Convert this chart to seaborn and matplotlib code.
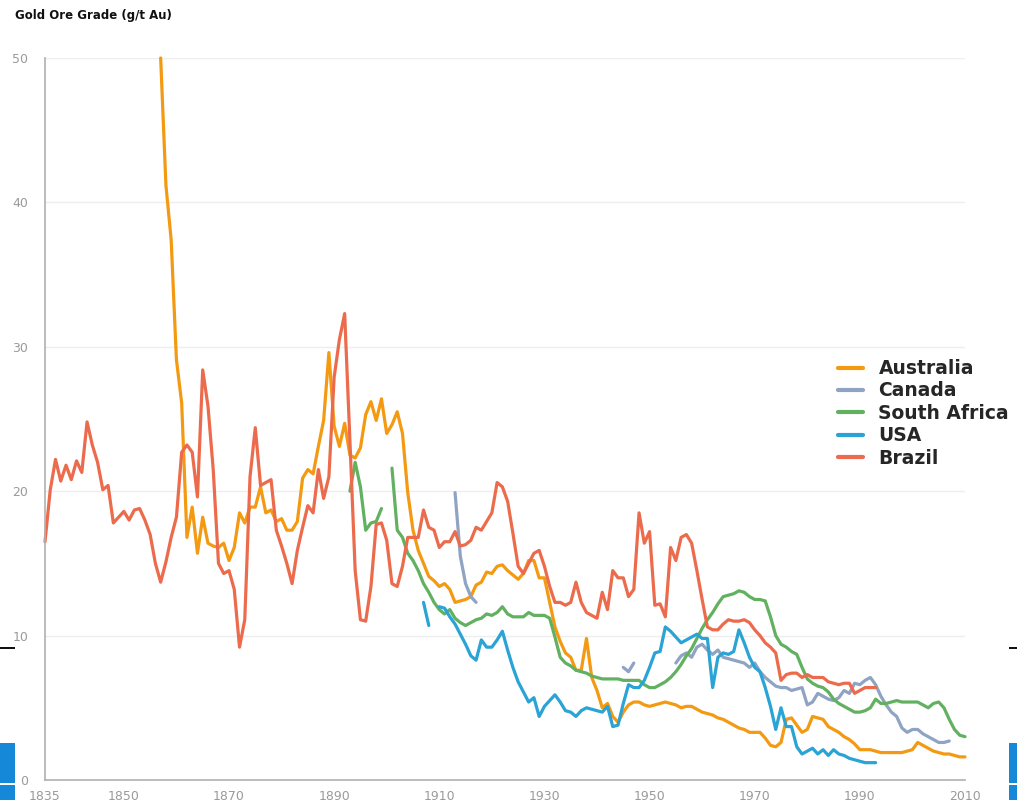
import pandas as pd
import matplotlib.pyplot as plt
import seaborn as sns
from matplotlib.patches import Rectangle
from matplotlib.lines import Line2D

# Gold ore grade (g/t Au)
aus_years = list(range(1857, 2011))
aus_vals = [50.0, 41.2, 37.4, 29.1, 26.1, 16.8, 18.9, 15.7, 18.2, 16.4,
            16.2, 16.1, 16.4, 15.2, 16.1, 18.5, 17.8, 18.9, 18.9, 20.3,
            18.5, 18.7, 17.9, 18.1, 17.3, 17.3, 17.9, 20.9, 21.5, 21.2,
            23.1, 24.9, 29.6, 24.5, 23.1, 24.7, 22.5, 22.3, 23.0, 25.3,
            26.2, 24.9, 26.4, 24.0, 24.6, 25.5, 24.0, 19.9, 17.3, 15.9,
            15.0, 14.1, 13.8, 13.4, 13.6, 13.2, 12.3, 12.4, 12.5, 12.7,
            13.5, 13.7, 14.4, 14.3, 14.8, 14.9, 14.5, 14.2, 13.9, 14.3,
            15.2, 15.2, 14.0, 14.0, 12.3, 10.6, 9.6, 8.8, 8.5, 7.6,
            7.6, 9.8, 7.1, 6.2, 5.0, 5.3, 4.4, 4.0, 4.7, 5.2,
            5.4, 5.4, 5.2, 5.1, 5.2, 5.3, 5.4, 5.3, 5.2, 5.0,
            5.1, 5.1, 4.9, 4.7, 4.6, 4.5, 4.3, 4.2, 4.0, 3.8,
            3.6, 3.5, 3.3, 3.3, 3.3, 2.9, 2.4, 2.3, 2.6, 4.2,
            4.3, 3.8, 3.3, 3.5, 4.4, 4.3, 4.2, 3.7, 3.5, 3.3,
            3.0, 2.8, 2.5, 2.1, 2.1, 2.1, 2.0, 1.9, 1.9, 1.9,
            1.9, 1.9, 2.0, 2.1, 2.6, 2.4, 2.2, 2.0, 1.9, 1.8,
            1.8, 1.7, 1.6, 1.6]

can_years_1 = list(range(1913, 1918))
can_vals_1 = [19.9, 15.5, 13.6, 12.7, 12.3]
can_years_2 = list(range(1945, 1948))
can_vals_2 = [7.8, 7.5, 8.1]
can_years_3 = list(range(1955, 2008))
can_vals_3 = [8.1, 8.6, 8.8, 8.5, 9.2, 9.4, 9.0, 8.7, 9.0, 8.5,
              8.4, 8.3, 8.2, 8.1, 7.8, 8.1, 7.5, 7.1, 6.8, 6.5,
              6.4, 6.4, 6.2, 6.3, 6.4, 5.2, 5.4, 6.0, 5.8, 5.6,
              5.5, 5.7, 6.2, 6.0, 6.7, 6.6, 6.9, 7.1, 6.6, 5.8,
              5.2, 4.7, 4.4, 3.6, 3.3, 3.5, 3.5, 3.2, 3.0, 2.8,
              2.6, 2.6, 2.7]

sa_years_1 = list(range(1893, 1900))
sa_vals_1 = [20.0, 22.0, 20.3, 17.3, 17.8, 17.9, 18.8]
sa_years_2 = list(range(1901, 2011))
sa_vals_2 = [21.6, 17.3, 16.8, 15.7, 15.2, 14.5, 13.6, 13.0, 12.3, 11.8,
             11.5, 11.8, 11.2, 10.9, 10.7, 10.9, 11.1, 11.2, 11.5, 11.4,
             11.6, 12.0, 11.5, 11.3, 11.3, 11.3, 11.6, 11.4, 11.4, 11.4,
             11.2, 9.9, 8.5, 8.1, 7.9, 7.6, 7.5, 7.4, 7.2, 7.1,
             7.0, 7.0, 7.0, 7.0, 6.9, 6.9, 6.9, 6.9, 6.6, 6.4,
             6.4, 6.6, 6.8, 7.1, 7.5, 8.0, 8.6, 9.1, 9.8, 10.5,
             11.1, 11.6, 12.2, 12.7, 12.8, 12.9, 13.1, 13.0, 12.7, 12.5,
             12.5, 12.4, 11.3, 10.0, 9.4, 9.2, 8.9, 8.7, 7.8, 7.0,
             6.7, 6.5, 6.4, 6.1, 5.6, 5.3, 5.1, 4.9, 4.7, 4.7,
             4.8, 5.0, 5.6, 5.3, 5.3, 5.4, 5.5, 5.4, 5.4, 5.4,
             5.4, 5.2, 5.0, 5.3, 5.4, 5.0, 4.2, 3.5, 3.1, 3.0]

usa_years_1 = [1907, 1908]
usa_vals_1 = [12.3, 10.7]
usa_years_2 = list(range(1910, 1994))
usa_vals_2 = [12.0, 11.9, 11.3, 10.8, 10.1, 9.4, 8.6, 8.3, 9.7, 9.2,
              9.2, 9.7, 10.3, 9.0, 7.8, 6.8, 6.1, 5.4, 5.7, 4.4,
              5.1, 5.5, 5.9, 5.4, 4.8, 4.7, 4.4, 4.8, 5.0, 4.9,
              4.8, 4.7, 5.1, 3.7, 3.8, 5.3, 6.6, 6.4, 6.4, 6.9,
              7.8, 8.8, 8.9, 10.6, 10.3, 9.9, 9.5, 9.7, 9.9, 10.1,
              9.8, 9.8, 6.4, 8.5, 8.8, 8.7, 8.9, 10.4, 9.5, 8.5,
              7.8, 7.5, 6.4, 5.1, 3.5, 5.0, 3.7, 3.7, 2.3, 1.8,
              2.0, 2.2, 1.8, 2.1, 1.7, 2.1, 1.8, 1.7, 1.5, 1.4,
              1.3, 1.2, 1.2, 1.2]

bra_years = list(range(1835, 1994))
bra_vals = [16.5, 20.1, 22.2, 20.7, 21.8, 20.8, 22.1, 21.3, 24.8, 23.2,
            22.0, 20.1, 20.4, 17.8, 18.2, 18.6, 18.0, 18.7, 18.8, 18.0,
            17.0, 15.0, 13.7, 15.1, 16.8, 18.2, 22.7, 23.2, 22.7, 19.6,
            28.4, 25.9, 21.5, 15.0, 14.3, 14.5, 13.2, 9.2, 11.1, 21.0,
            24.4, 20.4, 20.6, 20.8, 17.3, 16.2, 15.0, 13.6, 15.9, 17.5,
            19.0, 18.5, 21.5, 19.5, 21.0, 27.9, 30.5, 32.3, 23.5, 14.5,
            11.1, 11.0, 13.4, 17.7, 17.8, 16.6, 13.6, 13.4, 14.8, 16.8,
            16.8, 16.8, 18.7, 17.5, 17.3, 16.1, 16.5, 16.5, 17.2, 16.2,
            16.3, 16.6, 17.5, 17.3, 17.9, 18.5, 20.6, 20.3, 19.3, 17.1,
            14.8, 14.3, 15.0, 15.7, 15.9, 14.8, 13.4, 12.3, 12.3, 12.1,
            12.3, 13.7, 12.3, 11.6, 11.4, 11.2, 13.0, 11.8, 14.5, 14.0,
            14.0, 12.7, 13.2, 18.5, 16.4, 17.2, 12.1, 12.2, 11.3, 16.1,
            15.2, 16.8, 17.0, 16.4, 14.5, 12.5, 10.6, 10.4, 10.4, 10.8,
            11.1, 11.0, 11.0, 11.1, 10.9, 10.4, 10.0, 9.5, 9.2, 8.8,
            6.9, 7.3, 7.4, 7.4, 7.1, 7.3, 7.1, 7.1, 7.1, 6.8,
            6.7, 6.6, 6.7, 6.7, 6.0, 6.2, 6.4, 6.4, 6.4]

countries = ["Australia", "Canada", "South Africa", "USA", "Brazil"]
colors = ["#f39a12", "#8fa3c3", "#62b160", "#2aa3d5", "#ec6b4c"]
x_ticks = [1835, 1850, 1870, 1890, 1910, 1930, 1950, 1970, 1990, 2010]
y_ticks = [0, 10, 20, 30, 40, 50]

segments = [
    ("Australia", aus_years, aus_vals),
    ("Canada", can_years_1, can_vals_1),
    ("Canada", can_years_2, can_vals_2),
    ("Canada", can_years_3, can_vals_3),
    ("South Africa", sa_years_1, sa_vals_1),
    ("South Africa", sa_years_2, sa_vals_2),
    ("USA", usa_years_1, usa_vals_1),
    ("USA", usa_years_2, usa_vals_2),
    ("Brazil", bra_years, bra_vals),
]

frames = []
for i, (name, yrs, vals) in enumerate(segments):
    frames.append(pd.DataFrame({"year": yrs, "grade": vals, "country": name, "seg": i}))
df = pd.concat(frames, ignore_index=True)

sns.set_style("white")
plt.rcParams["font.family"] = ["DejaVu Sans"]

fig = plt.figure(figsize=(10.17, 8), dpi=100)
ax = fig.add_axes([45 / 1017, 20 / 800, 920 / 1017, 722 / 800])

sns.lineplot(data=df, x="year", y="grade", hue="country", hue_order=countries,
             palette=colors, units="seg", estimator=None, linewidth=2.3,
             ax=ax, legend=False, clip_on=False)

ax.set_xlim(1835, 2010)
ax.set_ylim(0, 50)
ax.set_xticks(x_ticks)
ax.set_yticks(y_ticks)
ax.set_xlabel("")
ax.set_ylabel("")
ax.grid(axis="y", color="#eeeeee", linewidth=1)
ax.grid(axis="x", visible=False)
for side in ["top", "right"]:
    ax.spines[side].set_visible(False)
for side in ["left", "bottom"]:
    ax.spines[side].set_color("#b0b0b0")
    ax.spines[side].set_linewidth(1.2)
ax.tick_params(axis="both", length=0, labelsize=9, labelcolor="#9a9a9a")
ax.tick_params(axis="y", pad=12)
ax.tick_params(axis="x", pad=7)

fig.text(15 / 1017, 1 - 16 / 800, "Gold Ore Grade (g/t Au)", fontsize=8.5,
         fontweight="bold", family=["Liberation Sans Narrow", "DejaVu Sans"],
         color="#111111", va="center", ha="left")

handles = [Line2D([0], [0], color=c, lw=3) for c in colors]
fig.legend(handles, countries, loc="upper left",
           bbox_to_anchor=(825 / 1017, 1 - 346 / 800),
           frameon=False, prop={"weight": "bold", "size": 13.5},
           handlelength=1.3, handletextpad=0.85, labelspacing=0.18,
           borderpad=0.2)

# bits of the surrounding slide at the edges
for x0, w in [(0, 15), (1009, 8)]:
    fig.add_artist(Rectangle((x0 / 1017, 1 - 649 / 800), w / 1017, 2 / 800,
                             transform=fig.transFigure, color="#111111", lw=0))
for x0, w in [(0, 15), (1009, 8)]:
    fig.add_artist(Rectangle((x0 / 1017, 1 - 783 / 800), w / 1017, 40 / 800,
                             transform=fig.transFigure, color="#1589d8", lw=0))
    fig.add_artist(Rectangle((x0 / 1017, 0), w / 1017, 15 / 800,
                             transform=fig.transFigure, color="#1589d8", lw=0))

fig.savefig("out.png", dpi=100)
